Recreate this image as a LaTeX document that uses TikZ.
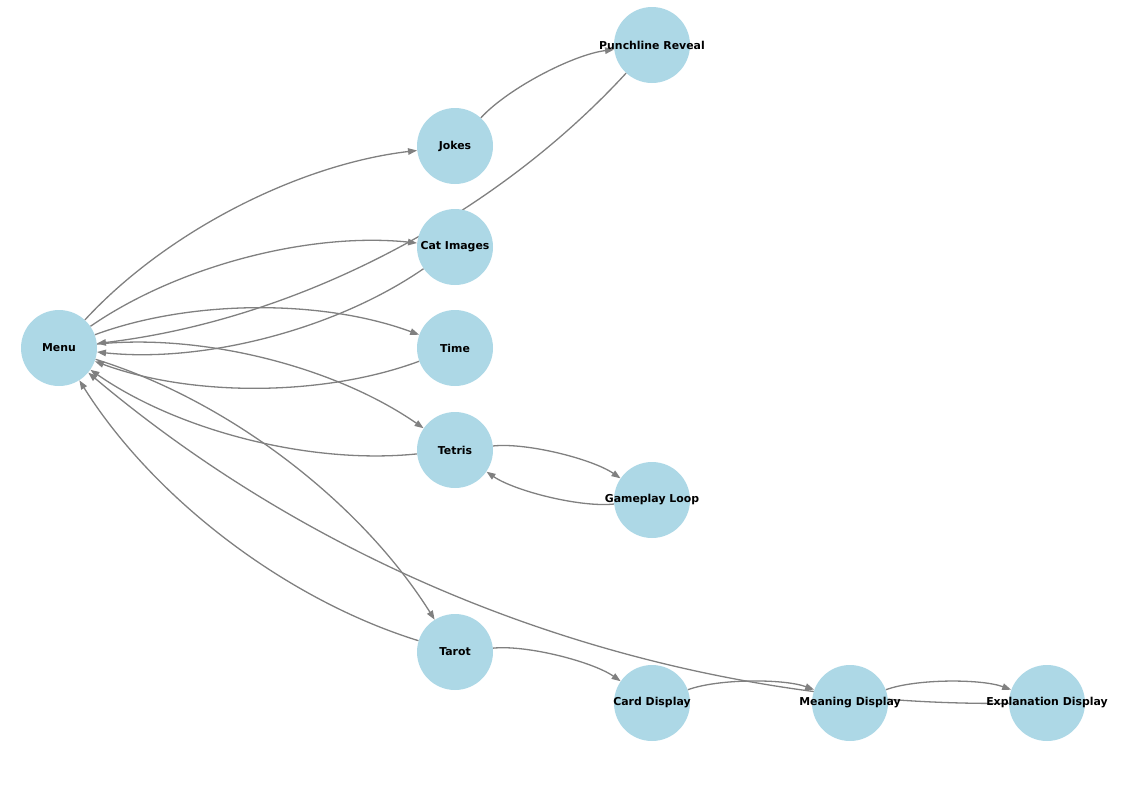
\documentclass[tikz,border=0pt]{standalone}
\usepackage{fontspec}
\setmainfont{DejaVu Sans}
\usetikzlibrary{arrows.meta,calc,backgrounds}
\definecolor{nodeblue}{RGB}{173,216,230}
\definecolor{edgegray}{RGB}{128,128,128}
\tikzset{
  vtx/.style={circle, fill=nodeblue, draw=none, minimum size=76pt, inner sep=0pt,
    font=\fontsize{10.9}{13}\selectfont\bfseries},
  edge/.style={draw=edgegray, line width=1.3pt, -{Triangle[length=9pt,width=6.5pt]}},
}
\newcommand\arcedge[2]{%
  \path ($(#1)!0.5!(#2)$) coordinate (mid);
  \path ($(mid)!0.37!90:(#2)$) coordinate (ctl);
  \draw[edge] (#1) .. controls ($(#1)!0.6667!(ctl)$) and ($(#2)!0.6667!(ctl)$) .. (#2);
}
\begin{document}
\begin{tikzpicture}[x=1pt,y=1pt]
\useasboundingbox (0,0) rectangle (1144,-785);
\node[vtx] (menu)  at (59,-348)   {\makebox[0pt]{Menu}};
\node[vtx] (jokes) at (455,-146)  {\makebox[0pt]{Jokes}};
\node[vtx] (cat)   at (455,-247)  {\makebox[0pt]{Cat Images}};
\node[vtx] (time)  at (455,-348)  {\makebox[0pt]{Time}};
\node[vtx] (tetris) at (455,-450) {\makebox[0pt]{Tetris}};
\node[vtx] (tarot) at (455,-652)  {\makebox[0pt]{Tarot}};
\node[vtx] (punch) at (652,-45)   {\makebox[0pt]{Punchline Reveal}};
\node[vtx] (game)  at (652,-500)  {\makebox[0pt]{Gameplay Loop}};
\node[vtx] (card)  at (652,-703)  {\makebox[0pt]{Card Display}};
\node[vtx] (mean)  at (850,-703)  {\makebox[0pt]{Meaning Display}};
\node[vtx] (expl)  at (1047,-703) {\makebox[0pt]{Explanation Display}};
\begin{pgfonlayer}{background}
\arcedge{menu}{jokes}
\arcedge{menu}{cat}
\arcedge{cat}{menu}
\arcedge{menu}{time}
\arcedge{time}{menu}
\arcedge{menu}{tetris}
\arcedge{tetris}{menu}
\arcedge{menu}{tarot}
\arcedge{tarot}{menu}
\arcedge{jokes}{punch}
\arcedge{punch}{menu}
\arcedge{tetris}{game}
\arcedge{game}{tetris}
\arcedge{tarot}{card}
\arcedge{card}{mean}
\arcedge{mean}{expl}
\arcedge{expl}{menu}
\end{pgfonlayer}
\end{tikzpicture}
\end{document}
